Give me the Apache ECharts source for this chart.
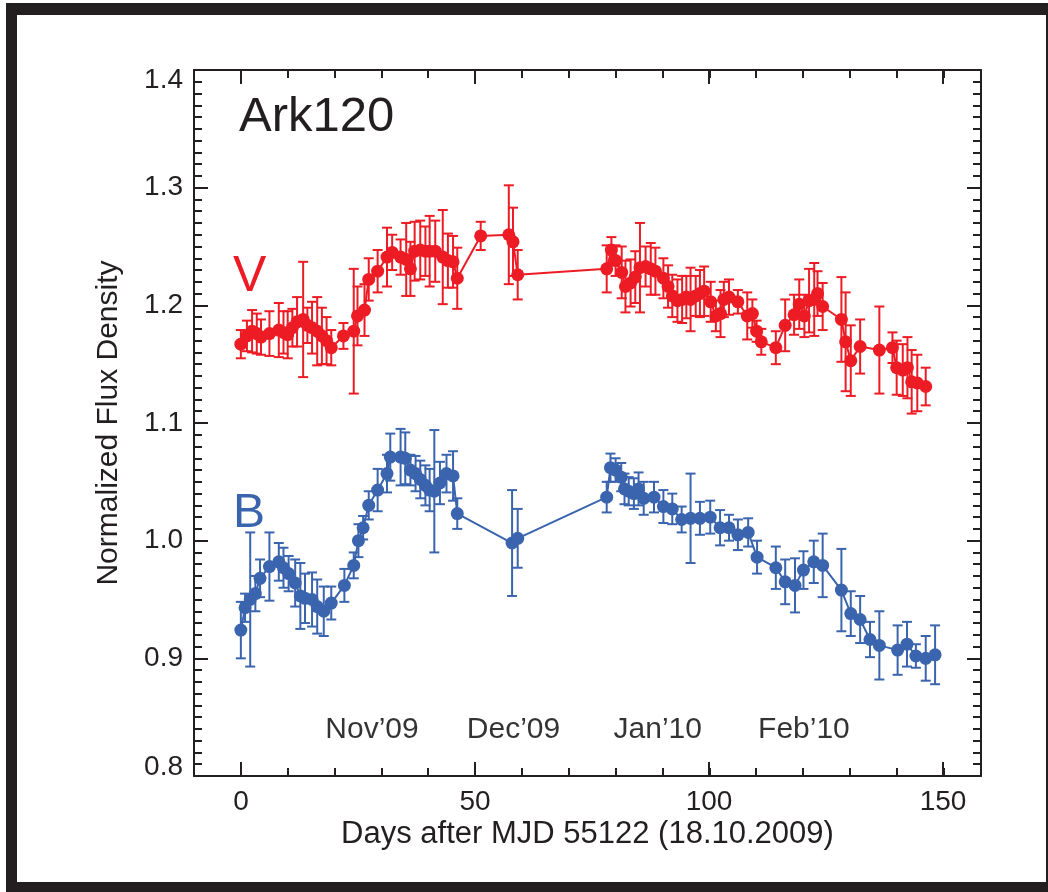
<!DOCTYPE html>
<html>
<head>
<meta charset="utf-8">
<script src="https://cdn.jsdelivr.net/npm/echarts@6/dist/echarts.min.js"></script>
<style>
html, body { margin: 0; padding: 0; background: #fff; }
#chart { width: 1048px; height: 892px; }
</style>
</head>
<body>
<div id="chart"></div>
<script>
// Ark120 optical light curves, normalized flux vs. days after MJD 55122
const vDays = [0.0,1.3,2.4,3.4,4.3,6.1,8.1,9.1,10.0,11.0,
  12.0,13.3,14.2,15.2,16.3,17.3,18.3,19.3,21.9,24.1,
  24.9,26.4,27.3,29.2,31.2,32.3,34.1,35.3,36.2,37.1,
  38.3,39.4,40.3,41.5,43.1,44.2,45.3,46.2,51.2,57.2,
  58.1,59.1,78.1,79.1,80.0,81.3,82.1,83.2,84.2,85.2,
  86.4,87.5,88.5,90.2,91.2,92.1,93.2,94.2,95.1,96.0,
  97.1,98.0,98.9,100.3,101.4,102.4,103.1,104.2,106.1,108.1,
  109.2,110.1,111.1,114.2,116.2,118.1,119.2,120.3,121.3,122.4,
  123.1,124.2,128.2,129.1,130.2,132.2,136.3,139.1,140.0,141.3,
  142.3,143.2,144.4,146.2];
const vFlux = [1.167,1.174,1.178,1.176,1.173,1.176,1.179,1.177,1.175,1.181,
  1.186,1.188,1.183,1.181,1.178,1.174,1.170,1.164,1.174,1.178,
  1.191,1.196,1.222,1.229,1.241,1.245,1.241,1.239,1.231,1.246,
  1.247,1.246,1.246,1.246,1.241,1.238,1.237,1.223,1.259,1.260,
  1.254,1.226,1.231,1.247,1.238,1.228,1.216,1.219,1.224,1.232,
  1.233,1.231,1.229,1.223,1.216,1.208,1.204,1.205,1.207,1.205,
  1.208,1.210,1.212,1.203,1.191,1.193,1.205,1.207,1.203,1.191,
  1.193,1.178,1.169,1.164,1.183,1.192,1.201,1.191,1.204,1.205,
  1.210,1.199,1.188,1.169,1.153,1.165,1.162,1.164,1.147,1.145,
  1.147,1.135,1.134,1.131];
const vErr = [0.012,0.013,0.018,0.017,0.015,0.019,0.023,0.018,0.020,0.016,
  0.021,0.049,0.015,0.022,0.029,0.024,0.020,0.015,0.011,0.053,
  0.025,0.022,0.018,0.018,0.025,0.015,0.015,0.031,0.023,0.025,
  0.025,0.021,0.030,0.026,0.040,0.023,0.022,0.026,0.012,0.042,
  0.029,0.021,0.020,0.011,0.013,0.022,0.022,0.020,0.022,0.038,
  0.017,0.022,0.020,0.017,0.018,0.018,0.018,0.020,0.018,0.027,
  0.017,0.020,0.021,0.017,0.013,0.020,0.015,0.015,0.010,0.020,
  0.012,0.009,0.011,0.014,0.022,0.017,0.021,0.018,0.027,0.031,
  0.019,0.020,0.036,0.042,0.030,0.023,0.037,0.013,0.023,0.022,
  0.026,0.027,0.024,0.016];

const bDays = [0.0,0.9,2.0,3.1,4.1,6.1,8.1,9.1,10.2,11.6,
  12.7,13.7,15.2,16.3,17.7,19.3,22.1,24.1,25.1,26.1,
  27.3,29.2,31.2,31.9,34.1,35.1,36.2,37.3,38.3,39.4,
  40.3,41.3,42.5,43.9,45.3,46.2,57.9,59.1,78.1,78.9,
  80.0,81.2,81.9,82.8,83.9,84.9,86.0,88.2,90.2,92.1,
  94.1,96.0,98.0,100.2,102.3,104.2,106.1,108.3,110.2,114.2,
  116.2,118.3,120.1,122.3,124.2,128.2,130.2,132.2,134.3,136.3,
  140.2,142.2,144.1,146.2,148.2];
const bFlux = [0.924,0.943,0.950,0.955,0.968,0.978,0.982,0.977,0.972,0.964,
  0.953,0.951,0.950,0.944,0.940,0.947,0.962,0.979,1.000,1.011,
  1.030,1.043,1.057,1.071,1.071,1.070,1.060,1.057,1.052,1.047,
  1.043,1.042,1.049,1.057,1.055,1.023,0.998,1.002,1.037,1.062,
  1.060,1.054,1.044,1.042,1.040,1.044,1.036,1.037,1.029,1.027,
  1.018,1.019,1.019,1.020,1.011,1.011,1.005,1.007,0.986,0.977,
  0.965,0.962,0.975,0.982,0.979,0.958,0.938,0.933,0.916,0.911,
  0.907,0.912,0.902,0.900,0.903];
const bErr = [0.024,0.012,0.057,0.015,0.016,0.029,0.016,0.017,0.015,0.020,
  0.028,0.021,0.023,0.023,0.021,0.014,0.014,0.011,0.014,0.010,
  0.012,0.018,0.016,0.020,0.024,0.022,0.013,0.015,0.016,0.017,
  0.018,0.052,0.018,0.016,0.021,0.013,0.045,0.025,0.013,0.012,
  0.010,0.012,0.013,0.012,0.013,0.014,0.014,0.013,0.014,0.013,
  0.011,0.038,0.014,0.014,0.015,0.011,0.013,0.012,0.014,0.018,
  0.019,0.023,0.016,0.018,0.027,0.035,0.019,0.020,0.015,0.029,
  0.021,0.019,0.010,0.019,0.025];

// month markers (placed at mid-month, in days)
const monthNames = ['Nov\u201909', 'Dec\u201909', 'Jan\u201910', 'Feb\u201910'];
const monthDays = [28.0, 58.2, 89.0, 120.2];

const FONT = "'Liberation Sans', Arial, Helvetica, sans-serif";
const INK = '#231F20';
const RED = '#ED1C24';
const BLUE = '#3A64AE';

const pairs = (xs, ys) => xs.map((x, i) => [x, ys[i]]);
const bars = (xs, ys, es) => xs.map((x, i) => [x, ys[i] - es[i], ys[i] + es[i]]);

function errorBars(color) {
  return function (params, api) {
    const x = api.value(0);
    const lo = api.coord([x, api.value(1)]);
    const hi = api.coord([x, api.value(2)]);
    const cap = 5;
    const st = { stroke: color, lineWidth: 2 };
    return {
      type: 'group',
      children: [
        { type: 'line', shape: { x1: lo[0], y1: lo[1], x2: hi[0], y2: hi[1] }, style: st },
        { type: 'line', shape: { x1: lo[0] - cap, y1: lo[1], x2: lo[0] + cap, y2: lo[1] }, style: st },
        { type: 'line', shape: { x1: hi[0] - cap, y1: hi[1], x2: hi[0] + cap, y2: hi[1] }, style: st }
      ]
    };
  };
}

const X_MIN = -10, X_MAX = 158;
const axisLine = { show: true, onZero: false, lineStyle: { color: INK, width: 2 } };
const noLine = { show: false, onZero: false };

const yLabelFmt = (v) => {
  const s = v.toFixed(1);
  if (v > 1.395) return '{top|' + s + '}';
  if (v < 0.805) return '{bot|' + s + '}';
  return '{n|' + s + '}';
};
const labTxt = { fontFamily: FONT, fontSize: 28, color: INK };

const chart = echarts.init(document.getElementById('chart'), null, { renderer: 'canvas' });
chart.setOption({
  backgroundColor: '#ffffff',
  animation: false,
  grid: [
    { left: 194, right: 67, top: 70, bottom: 116, outerBoundsMode: 'none' },
    { left: 241, right: 105, top: 70, bottom: 116, outerBoundsMode: 'none' }
  ],
  xAxis: [
    { // bottom, minor ticks every 10 days
      gridIndex: 0, type: 'value', position: 'bottom', min: X_MIN, max: X_MAX, interval: 10,
      axisLine: axisLine, splitLine: { show: false },
      axisTick: { show: true, inside: true, length: 8, lineStyle: { color: INK, width: 2 } },
      axisLabel: { show: false },
      name: 'Days after MJD 55122 (18.10.2009)', nameLocation: 'middle', nameGap: 43,
      nameTextStyle: { fontFamily: FONT, fontSize: 31, color: INK }
    },
    { // top, minor ticks
      gridIndex: 0, type: 'value', position: 'top', min: X_MIN, max: X_MAX, interval: 10,
      axisLine: axisLine, splitLine: { show: false },
      axisTick: { show: true, inside: true, length: 8, lineStyle: { color: INK, width: 2 } },
      axisLabel: { show: false }
    },
    { // bottom, major ticks and labels
      gridIndex: 1, type: 'value', position: 'bottom', min: 0, max: 150, interval: 50,
      axisLine: noLine, splitLine: { show: false },
      axisTick: { show: true, inside: true, length: 14, lineStyle: { color: INK, width: 2 } },
      axisLabel: { show: true, margin: 12, fontFamily: FONT, fontSize: 28, color: INK }
    },
    { // top, major ticks
      gridIndex: 1, type: 'value', position: 'top', min: 0, max: 150, interval: 50,
      axisLine: noLine, splitLine: { show: false },
      axisTick: { show: true, inside: true, length: 14, lineStyle: { color: INK, width: 2 } },
      axisLabel: { show: false }
    }
  ],
  yAxis: [
    {
      gridIndex: 0, type: 'value', position: 'left', min: 0.8, max: 1.4, interval: 0.1,
      axisLine: axisLine, splitLine: { show: false },
      axisTick: { show: true, inside: true, length: 14, lineStyle: { color: INK, width: 2 } },
      minorTick: { show: true, splitNumber: 10, length: 8, lineStyle: { color: INK, width: 2 } },
      minorSplitLine: { show: false },
      axisLabel: {
        show: true, margin: 11, formatter: yLabelFmt,
        rich: {
          n: labTxt,
          top: Object.assign({ padding: [20, 0, 0, 0] }, labTxt),
          bot: Object.assign({ padding: [0, 0, 18, 0] }, labTxt)
        }
      },
      name: 'Normalized Flux Density', nameLocation: 'middle', nameGap: 70, nameRotate: 90,
      nameTextStyle: { fontFamily: FONT, fontSize: 30, color: INK }
    },
    {
      gridIndex: 0, type: 'value', position: 'right', min: 0.8, max: 1.4, interval: 0.1,
      axisLine: axisLine, splitLine: { show: false },
      axisTick: { show: true, inside: true, length: 14, lineStyle: { color: INK, width: 2 } },
      minorTick: { show: true, splitNumber: 10, length: 8, lineStyle: { color: INK, width: 2 } },
      minorSplitLine: { show: false },
      axisLabel: { show: false }
    },
    { gridIndex: 1, type: 'value', min: 0.8, max: 1.4, show: false, axisLine: noLine },
    { gridIndex: 1, type: 'value', min: 0.8, max: 1.4, show: false, axisLine: noLine }
  ],
  series: [
    {
      type: 'custom', name: 'V err', xAxisIndex: 0, yAxisIndex: 0, z: 2,
      renderItem: errorBars(RED), encode: { x: 0, y: [1, 2] },
      data: bars(vDays, vFlux, vErr), silent: true
    },
    {
      type: 'custom', name: 'B err', xAxisIndex: 0, yAxisIndex: 0, z: 2,
      renderItem: errorBars(BLUE), encode: { x: 0, y: [1, 2] },
      data: bars(bDays, bFlux, bErr), silent: true
    },
    {
      type: 'line', name: 'V', xAxisIndex: 0, yAxisIndex: 0, z: 3,
      data: pairs(vDays, vFlux), symbol: 'circle', symbolSize: 13, showSymbol: true,
      lineStyle: { color: RED, width: 2 }, itemStyle: { color: RED, borderWidth: 0 }
    },
    {
      type: 'line', name: 'B', xAxisIndex: 0, yAxisIndex: 0, z: 3,
      data: pairs(bDays, bFlux), symbol: 'circle', symbolSize: 13, showSymbol: true,
      lineStyle: { color: BLUE, width: 2 }, itemStyle: { color: BLUE, borderWidth: 0 }
    },
    {
      type: 'scatter', name: 'months', xAxisIndex: 0, yAxisIndex: 0, z: 4,
      symbolSize: 0, silent: true,
      data: monthDays.map((d, i) => ({ value: [d, 0.839], name: monthNames[i] })),
      label: {
        show: true, position: 'inside', formatter: '{b}',
        fontFamily: FONT, fontSize: 30, color: '#000'
      }
    }
  ],
  graphic: [
    { type: 'rect', shape: { x: 6, y: 3, width: 1042, height: 12 }, style: { fill: INK }, silent: true },
    { type: 'rect', shape: { x: 6, y: 3, width: 11, height: 889 }, style: { fill: INK }, silent: true },
    { type: 'rect', shape: { x: 6, y: 882, width: 1042, height: 10 }, style: { fill: INK }, silent: true },
    { type: 'rect', shape: { x: 1046, y: 3, width: 2, height: 889 }, style: { fill: INK }, silent: true },
    { type: 'text', x: 239, y: 117, silent: true,
      style: { text: 'Ark120', fontFamily: FONT, fontSize: 49, fill: INK, verticalAlign: 'middle' } },
    { type: 'text', x: 233, y: 277, silent: true,
      style: { text: 'V', fontFamily: FONT, fontSize: 50, fill: RED, verticalAlign: 'middle' } },
    { type: 'text', x: 233, y: 514, silent: true,
      style: { text: 'B', fontFamily: FONT, fontSize: 48, fill: BLUE, verticalAlign: 'middle' } }
  ]
});
</script>
</body>
</html>
